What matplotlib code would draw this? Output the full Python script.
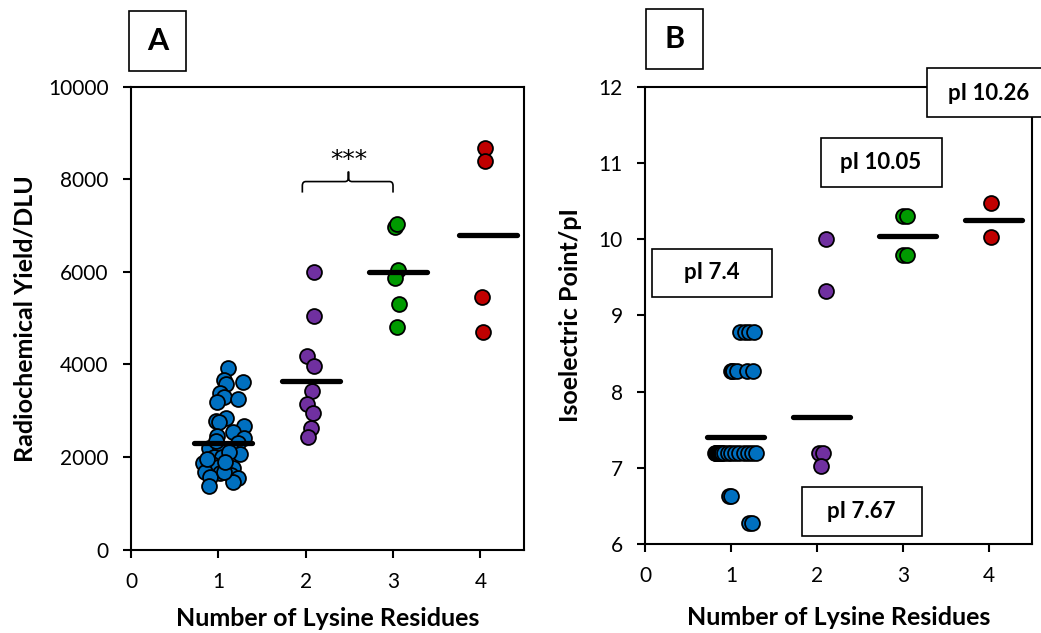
import numpy as np
import matplotlib.pyplot as plt
from matplotlib.patches import Rectangle, PathPatch
from matplotlib.path import Path

plt.rcParams["font.family"] = ["Lato", "DejaVu Sans"]

# ---------------------------------------------------------------------------
# Data
# ---------------------------------------------------------------------------
BLUE = "#0070C0"
PURPLE = "#7030A0"
GREEN = "#009A00"
RED = "#C00000"
GROUP_COLORS = [BLUE, PURPLE, GREEN, RED]

# Panel A: radiochemical yield (DLU) per peptide, x = jittered lysine count
yield_k1_x = [1.115, 1.06, 1.28, 1.09, 1.02, 1.06, 1.22, 0.99, 0.97, 1.09,
              1.01, 1.29, 1.17, 0.99, 1.29, 1.22, 0.89, 1.02, 1.14, 1.25,
              0.95, 1.04, 0.83, 0.93, 1.00, 1.10, 1.17, 0.85, 1.02, 1.14,
              0.91, 1.22, 0.89, 1.17, 1.06, 0.97, 1.12, 0.87, 1.08]
yield_k1_y = [3930, 3670, 3630, 3580, 3390, 3300, 3260, 3190, 2780, 2850,
              2760, 2670, 2540, 2460, 2410, 2300, 2200, 2200, 2150, 2070,
              2000, 2000, 1870, 1850, 1790, 1830, 1760, 1680, 1660, 1610,
              1570, 1550, 1380, 1460, 1680, 2350, 2100, 1950, 1900]
yield_k2_x = [2.09, 2.10, 2.02, 2.09, 2.07, 2.01, 2.08, 2.06, 2.03]
yield_k2_y = [6010, 5050, 4190, 3970, 3430, 3150, 2955, 2630, 2435]
yield_k3_x = [3.02, 3.05, 3.06, 3.02, 3.07, 3.05]
yield_k3_y = [6980, 7040, 6050, 5880, 5315, 4815]
yield_k4_x = [4.05, 4.05, 4.02, 4.03]
yield_k4_y = [8670, 8390, 5465, 4710]
yield_means = [2300, 3650, 6010, 6810]
yield_mean_x = [1.05, 2.06, 3.06, 4.09]

# Panel B: isoelectric point per peptide
pi_k1_x = [1.10, 1.16, 1.21, 1.27,
           1.00, 1.01, 1.02, 1.07, 1.19, 1.26,
           0.81, 0.82, 0.83, 0.84, 0.85, 0.86, 0.87, 0.88, 0.90, 0.92,
           0.96, 1.00, 1.05, 1.09, 1.15, 1.20, 1.24, 1.29,
           0.98, 1.00,
           1.21, 1.24]
pi_k1_y = [8.78, 8.78, 8.78, 8.78,
           8.27, 8.27, 8.27, 8.27, 8.27, 8.27,
           7.19, 7.19, 7.19, 7.19, 7.19, 7.19, 7.19, 7.19, 7.19, 7.19,
           7.19, 7.19, 7.19, 7.19, 7.19, 7.19, 7.19, 7.19,
           6.63, 6.63,
           6.27, 6.27]
pi_k2_x = [2.10, 2.10, 2.02, 2.07, 2.05]
pi_k2_y = [10.00, 9.32, 7.19, 7.19, 7.02]
pi_k3_x = [3.00, 3.05, 3.00, 3.05]
pi_k3_y = [10.30, 10.30, 9.79, 9.79]
pi_k4_x = [4.02, 4.02]
pi_k4_y = [10.48, 10.03]
pi_means = [7.40, 7.67, 10.05, 10.26]
pi_mean_x = [1.05, 2.05, 3.05, 4.05]
pi_labels = ["pI 7.4", "pI 7.67", "pI 10.05", "pI 10.26"]

MEAN_HALF_WIDTH = 0.33
MARKER_SIZE = 115


def style_axes(ax):
    for side in ["left", "right", "top", "bottom"]:
        ax.spines[side].set_linewidth(1.5)
        ax.spines[side].set_color("black")
    ax.tick_params(direction="out", length=6, width=1.5, labelsize=15,
                   pad=10, top=False, right=False)
    ax.set_xlim(0, 4.5)
    ax.set_xticks([0, 1, 2, 3, 4])


def draw_groups(ax, xs, ys, means, mean_x):
    for x, y, c in zip(xs, ys, GROUP_COLORS):
        ax.scatter(x, y, s=MARKER_SIZE, c=c, edgecolors="black",
                   linewidths=1.3, zorder=3, clip_on=False)
    for m, cx in zip(means, mean_x):
        ax.plot([cx - MEAN_HALF_WIDTH, cx + MEAN_HALF_WIDTH], [m, m],
                color="black", lw=3.8, solid_capstyle="round", zorder=4)


def panel_letter(fig, letter, x0, y0):
    # boxed panel letter, given in pixel coordinates from the top-left
    W, H = fig.get_size_inches() * fig.dpi
    w, h = 57, 60
    fig.patches.append(Rectangle((x0 / W, 1 - (y0 + h) / H), w / W, h / H,
                                 transform=fig.transFigure, fill=False,
                                 edgecolor="black", lw=1.2))
    fig.text((x0 + w / 2) / W, 1 - (y0 + h / 2) / H, letter,
             ha="center", va="center", fontsize=22, fontweight="bold")


fig = plt.figure(figsize=(10.41, 6.33), dpi=100)
fig.patch.set_facecolor("white")

# ---------------------------------------------------------------------------
# Panel A
# ---------------------------------------------------------------------------
axA = fig.add_axes([0.1258, 0.1319, 0.3776, 0.7307])
style_axes(axA)
axA.set_ylim(0, 10000)
axA.set_yticks(np.arange(0, 10001, 2000))
draw_groups(axA,
            [yield_k1_x, yield_k2_x, yield_k3_x, yield_k4_x],
            [yield_k1_y, yield_k2_y, yield_k3_y, yield_k4_y],
            yield_means, yield_mean_x)
axA.set_xlabel("Number of Lysine Residues", fontsize=18, fontweight="bold",
               labelpad=11)
axA.set_ylabel("Radiochemical Yield/DLU", fontsize=18, fontweight="bold",
               labelpad=8)

# significance brace between 2 and 3 lysines
xl, xr, xm = 1.962, 3.0, 2.49
yb, yh, yt = 7717, 7955, 8171
dx, dy = 0.04, 90
verts = [(xl, yb), (xl, yh - dy), (xl, yh), (xl + dx, yh),
         (xm - dx, yh), (xm, yh), (xm, yh + dy), (xm, yt),
         (xm, yh + dy), (xm, yh), (xm + dx, yh), (xr - dx, yh),
         (xr, yh), (xr, yh - dy), (xr, yb)]
codes = [Path.MOVETO, Path.LINETO, Path.CURVE3, Path.CURVE3,
         Path.LINETO, Path.CURVE3, Path.CURVE3, Path.LINETO,
         Path.LINETO, Path.CURVE3, Path.CURVE3, Path.LINETO,
         Path.CURVE3, Path.CURVE3, Path.LINETO]
axA.add_patch(PathPatch(Path(verts, codes), fill=False, lw=1.2,
                        edgecolor="black"))
axA.text(xm, 8430, "***", ha="center", va="center", fontsize=18,
         family="DejaVu Sans")

# ---------------------------------------------------------------------------
# Panel B
# ---------------------------------------------------------------------------
axB = fig.add_axes([0.6196, 0.1406, 0.3718, 0.7220])
style_axes(axB)
axB.set_ylim(6, 12)
axB.set_yticks(np.arange(6, 13, 1))
draw_groups(axB,
            [pi_k1_x, pi_k2_x, pi_k3_x, pi_k4_x],
            [pi_k1_y, pi_k2_y, pi_k3_y, pi_k4_y],
            pi_means, pi_mean_x)
axB.set_xlabel("Number of Lysine Residues", fontsize=18, fontweight="bold",
               labelpad=14)
axB.set_ylabel("Isoelectric Point/pI", fontsize=18, fontweight="bold",
               labelpad=12)

# boxed mean pI callouts: (x0, x1, y0, y1) of the box, text centre
box_extents = [(0.08, 1.48, 9.24, 9.87),
               (1.83, 3.22, 6.10, 6.75),
               (2.05, 3.45, 10.69, 11.33),
               (3.28, 4.70, 11.60, 12.25)]
text_centres = [(0.78, 9.56), (2.52, 6.43), (2.74, 11.01), (3.99, 11.92)]
for (x0, x1, y0, y1), (tx, ty), lab in zip(box_extents, text_centres, pi_labels):
    axB.add_patch(Rectangle((x0, y0), x1 - x0, y1 - y0, facecolor="white",
                            edgecolor="black", lw=1.2, zorder=5,
                            clip_on=False))
    axB.text(tx, ty, lab, ha="center", va="center", fontsize=16,
             fontweight="bold", zorder=6)

panel_letter(fig, "A", 129, 11)
panel_letter(fig, "B", 646, 9)

fig.savefig("out.png", dpi=100, facecolor="white")
